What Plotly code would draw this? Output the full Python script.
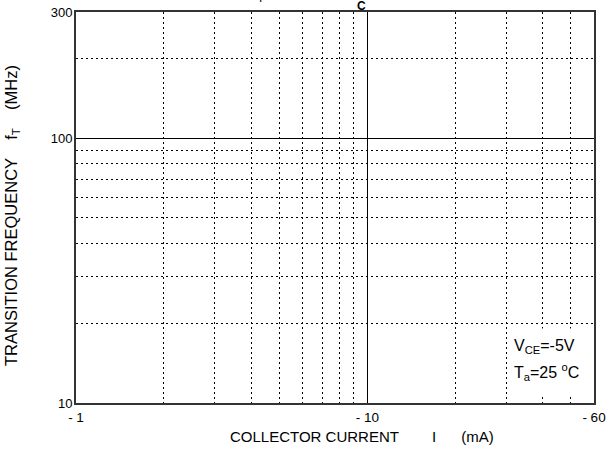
import math
import plotly.graph_objects as go

# axis values / labels
x_major = [1, 10, 60]
x_major_text = ["- 1", "- 10", "- 60"]
x_minor = [2, 3, 4, 5, 6, 7, 8, 9, 20, 30, 40, 50]
y_major = [10, 100, 300]
y_major_text = ["10", "100", "300"]
y_minor = [20, 30, 40, 50, 60, 70, 80, 90, 200]
x_range = [1, 60]
y_range = [10, 300]

W, H = 606, 457
L, R, T, B = 76, 12, 12, 54
pw, ph = W - L - R, H - T - B

def px(x):
    return (x - L) / pw

def py(y):
    return (H - B - y) / ph

FONT = "Liberation Sans, Arial, sans-serif"
DOT = "1.5px,3.5px"

fig = go.Figure()
fig.add_trace(go.Scatter(x=[], y=[], mode="lines", showlegend=False))

fig.update_layout(
    width=W, height=H,
    margin=dict(l=L, r=R, t=T, b=B, autoexpand=False),
    paper_bgcolor="white", plot_bgcolor="white",
    font=dict(family=FONT, size=13, color="black"),
    showlegend=False,
    xaxis=dict(
        type="log", range=[math.log10(x_range[0]), math.log10(x_range[1])],
        tickmode="array", tickvals=x_major, ticktext=x_major_text,
        showgrid=True, gridcolor="black", gridwidth=1.4,
        showline=True, linecolor="#333", linewidth=2, mirror=True,
        ticks="", zeroline=False, automargin=False,
        tickfont=dict(size=13.5), ticklabelstandoff=1,
        minor=dict(tickmode="array", tickvals=x_minor, showgrid=True,
                   gridcolor="black", griddash=DOT, gridwidth=1.1, ticks=""),
    ),
    yaxis=dict(
        type="log", range=[math.log10(y_range[0]), math.log10(y_range[1])],
        tickmode="array", tickvals=y_major, ticktext=y_major_text,
        showgrid=True, gridcolor="black", gridwidth=1.4,
        showline=True, linecolor="#333", linewidth=2, mirror=True,
        ticks="", zeroline=False, automargin=False,
        tickfont=dict(size=13), ticklabelstandoff=-1,
        minor=dict(tickmode="array", tickvals=y_minor, showgrid=True,
                   gridcolor="black", griddash=DOT, gridwidth=1.1, ticks=""),
    ),
)

ann = []
# axis titles
ann.append(dict(text="TRANSITION FREQUENCY    f<sub>T</sub>    (MHz)", textangle=-90,
                xref="paper", yref="paper", x=px(12), y=py(216),
                showarrow=False, font=dict(size=16.5), xanchor="center", yanchor="middle"))
ann.append(dict(text="COLLECTOR CURRENT        I      (mA)",
                xref="paper", yref="paper", x=px(362), y=py(436),
                showarrow=False, font=dict(size=15), xanchor="center", yanchor="middle"))
# white box covering grid behind conditions text
ann.append(dict(text=" ", xref="paper", yref="paper", x=px(510), y=py(328),
                showarrow=False, xanchor="left", yanchor="top",
                width=80, height=66, bgcolor="white", borderpad=0))
# conditions text
ann.append(dict(text="V<sub>CE</sub>=-5V",
                xref="paper", yref="paper", x=px(512), y=py(346),
                showarrow=False, font=dict(size=16), xanchor="left", yanchor="middle"))
ann.append(dict(text="T<sub>a</sub>=25 <sup>o</sup>C",
                xref="paper", yref="paper", x=px(512), y=py(372),
                showarrow=False, font=dict(size=16), xanchor="left", yanchor="middle"))
# cut-off title fragments
ann.append(dict(text="T", xref="paper", yref="paper", x=px(261), y=py(-2),
                showarrow=False, font=dict(size=12), xanchor="center", yanchor="middle"))
ann.append(dict(text="<b>C</b>", xref="paper", yref="paper", x=px(361), y=py(6),
                showarrow=False, font=dict(size=12), xanchor="center", yanchor="middle"))
fig.update_layout(annotations=ann)

fig.write_html("out.html", config={"displayModeBar": False},
               post_script="document.body.style.margin='0px';")
